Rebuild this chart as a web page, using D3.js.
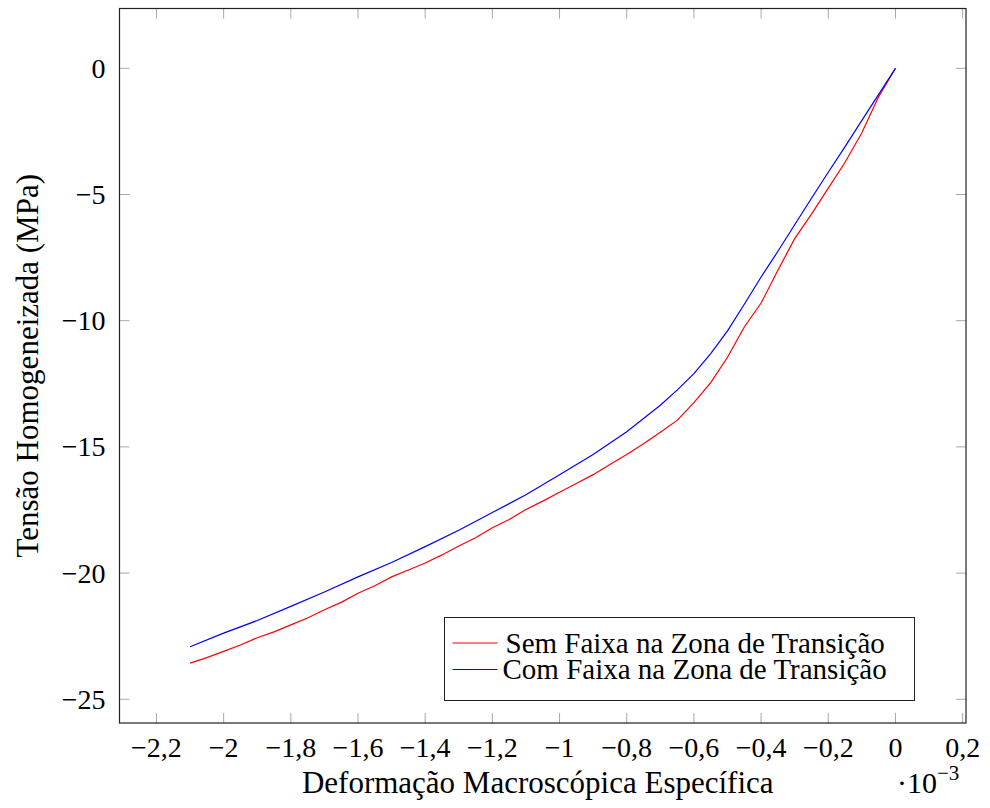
<!DOCTYPE html>
<html>
<head>
<meta charset="utf-8">
<script src="https://cdn.jsdelivr.net/npm/d3@7"></script>
<style>
  body { margin: 0; background: #fff; }
  svg text { font-family: "Liberation Serif", "DejaVu Serif", serif; fill: #000; }
</style>
</head>
<body>
<div id="chart"></div>
<script>
// strain (x 10^-3) and homogenised stress (MPa)
const semX = [-2.10, -2.05, -2.00, -1.95, -1.90, -1.85, -1.80, -1.75, -1.70, -1.65, -1.60, -1.55,
  -1.50, -1.45, -1.40, -1.35, -1.30, -1.25, -1.20, -1.15, -1.10, -1.05, -1.00, -0.95, -0.90,
  -0.85, -0.80, -0.75, -0.70, -0.65, -0.60, -0.55, -0.50, -0.45, -0.40, -0.35, -0.30, -0.25,
  -0.20, -0.15, -0.10, -0.05, 0];
const semY = [-23.57, -23.35, -23.10, -22.85, -22.56, -22.33, -22.05, -21.78, -21.45, -21.16, -20.80, -20.50,
  -20.15, -19.88, -19.60, -19.28, -18.93, -18.60, -18.20, -17.88, -17.48, -17.15, -16.80, -16.45, -16.10,
  -15.70, -15.30, -14.88, -14.42, -13.95, -13.25, -12.45, -11.45, -10.25, -9.30, -8.00, -6.75, -5.78,
  -4.75, -3.72, -2.55, -1.12, 0];

const comX = [-2.10, -2.00, -1.90, -1.80, -1.70, -1.60, -1.50, -1.40, -1.30, -1.20, -1.10, -1.00,
  -0.90, -0.80, -0.70, -0.65, -0.60, -0.55, -0.50, -0.45, -0.40, -0.35, -0.30, -0.25, -0.20,
  -0.15, -0.10, -0.05, 0];
const comY = [-22.92, -22.38, -21.88, -21.32, -20.75, -20.15, -19.58, -18.95, -18.30, -17.60, -16.90, -16.10,
  -15.30, -14.40, -13.35, -12.75, -12.10, -11.30, -10.40, -9.35, -8.27, -7.25, -6.20, -5.15, -4.12,
  -3.10, -2.06, -1.03, 0];

const seriesNames = ["Sem Faixa na Zona de Transição", "Com Faixa na Zona de Transição"];
const seriesColors = ["#ff0000", "#0000ff"];

const xTicks = [-2.2, -2, -1.8, -1.6, -1.4, -1.2, -1, -0.8, -0.6, -0.4, -0.2, 0, 0.2];
const yTicks = [0, -5, -10, -15, -20, -25];

const W = 990, H = 808;
const margin = { top: 8.5, right: 24, bottom: 85, left: 119.5 };
const width = W - margin.left - margin.right;
const height = H - margin.top - margin.bottom;

const svg = d3.select('#chart').append('svg')
  .attr('width', W)
  .attr('height', H);

const g = svg.append('g')
  .attr('transform', 'translate(' + margin.left + ',' + margin.top + ')');

const x = d3.scaleLinear().domain([-2.31, 0.21]).range([0, width]);
const y = d3.scaleLinear().domain([-25.94, 2.37]).range([height, 0]);

// decimal comma + real minus sign
const fmt = (v) => (v < 0 ? '\u2212' : '') + String(Math.abs(+v.toFixed(1))).replace('.', ',');

// ticks inside the frame, on all four sides
const tickLen = 10;
const tickColor = '#a8a8a8';
g.selectAll('line.xtb').data(xTicks).enter().append('line')
  .attr('x1', d => x(d)).attr('x2', d => x(d))
  .attr('y1', height).attr('y2', height - tickLen)
  .attr('stroke', tickColor);
g.selectAll('line.xtt').data(xTicks).enter().append('line')
  .attr('x1', d => x(d)).attr('x2', d => x(d))
  .attr('y1', 0).attr('y2', tickLen)
  .attr('stroke', tickColor);
g.selectAll('line.ytl').data(yTicks).enter().append('line')
  .attr('x1', 0).attr('x2', tickLen)
  .attr('y1', d => y(d)).attr('y2', d => y(d))
  .attr('stroke', tickColor);
g.selectAll('line.ytr').data(yTicks).enter().append('line')
  .attr('x1', width).attr('x2', width - tickLen)
  .attr('y1', d => y(d)).attr('y2', d => y(d))
  .attr('stroke', tickColor);

g.selectAll('text.xl').data(xTicks).enter().append('text')
  .attr('x', d => x(d))
  .attr('y', height + 34)
  .attr('text-anchor', 'middle')
  .style('font-size', '28px')
  .text(fmt);

g.selectAll('text.yl').data(yTicks).enter().append('text')
  .attr('x', -14)
  .attr('y', d => y(d))
  .attr('dy', '0.34em')
  .attr('text-anchor', 'end')
  .style('font-size', '28px')
  .text(fmt);

// curves
const line = d3.line().x(d => x(d[0])).y(d => y(d[1]));
const series = [d3.zip(semX, semY), d3.zip(comX, comY)];
g.selectAll('path.curve').data(series).enter().append('path')
  .attr('class', 'curve')
  .attr('d', line)
  .attr('fill', 'none')
  .attr('stroke', (d, i) => seriesColors[i])
  .attr('stroke-width', 1.2);

// frame
g.append('rect')
  .attr('width', width).attr('height', height)
  .attr('fill', 'none')
  .attr('stroke', '#222')
  .attr('stroke-width', 1.2);

// axis labels
g.append('text')
  .attr('x', width / 2 - 5)
  .attr('y', height + 70)
  .attr('text-anchor', 'middle')
  .style('font-size', '31px')
  .text('Deformação Macroscópica Específica');

const sc = g.append('text')
  .attr('x', width - 69)
  .attr('y', height + 70)
  .style('font-size', '30px');
sc.append('tspan').text('\u00b710');
sc.append('tspan').attr('dy', -13).style('font-size', '21px').text('\u22123');

g.append('text')
  .attr('transform', 'translate(' + (-82) + ',' + (height / 2) + ')rotate(-90)')
  .attr('text-anchor', 'middle')
  .style('font-size', '31px')
  .text('Tensão Homogeneizada (MPa)');

// legend
const legend = svg.append('g').attr('transform', 'translate(444.5,617.5)');
legend.append('rect')
  .attr('width', 470).attr('height', 83)
  .attr('fill', '#fff')
  .attr('stroke', '#222')
  .attr('stroke-width', 1);
const item = legend.selectAll('g.item').data(seriesNames).enter().append('g')
  .attr('transform', (d, i) => 'translate(0,' + (25.5 + i * 26.5) + ')');
item.append('line')
  .attr('x1', 8).attr('x2', 53)
  .attr('stroke', (d, i) => seriesColors[i])
  .attr('stroke-width', 1.2);
item.append('text')
  .attr('x', (d, i) => i === 0 ? 61 : 58)
  .attr('dy', '0.33em')
  .style('font-size', '29px')
  .text(d => d);
</script>
</body>
</html>
